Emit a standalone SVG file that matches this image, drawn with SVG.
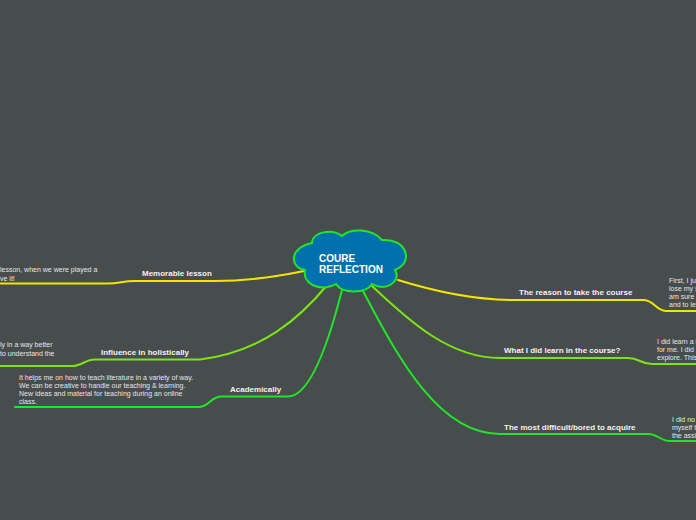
<svg xmlns="http://www.w3.org/2000/svg" width="696" height="520" viewBox="0 0 696 520">
<style>
.bg{fill:#474c4c}
.c{fill:none;stroke-width:2;stroke-linecap:round;stroke-linejoin:round}
.y{stroke:#f2e600}
.l{stroke:#7de414}
.g{stroke:#20e62a}
.lab{font-family:"Liberation Sans",Arial,sans-serif;font-size:8px;font-weight:bold;fill:#f2f2f2}
.d{font-family:"Liberation Sans",Arial,sans-serif;font-size:7px;fill:#e6e6e6}
.t{font-family:"Liberation Sans",Arial,sans-serif;font-size:10px;font-weight:bold;fill:#ffffff}
</style>
<rect class="bg" x="0" y="0" width="696" height="520"/>
<g id="connectors">
<path class="c y" d="M304 271 C270 278,245 281,215 281 L135 281 C122 281,120 283.5,108 283.5 L0 283.5"/>
<path class="c l" d="M328 284 C300 318,262 352,200 359.5 L95 359.5 C85 359.5,82 366,72 366 L0 366"/>
<path class="c g" d="M342 290 C328 345,310 396.5,288 396.5 L222 396.5 C210 396.5,210 407,198 407 L15 407"/>
<path class="c y" d="M398 280 C430 290,470 300,515 300 L643 300 C655 300,655 311,667 311 L696 311"/>
<path class="c l" d="M372 286 C410 322,450 358,500 358 L628 358 C640 358,640 364,652 364 L696 364"/>
<path class="c g" d="M362 289 C400 362,440 434,500 434 L648 434 C658 434,660 441,670 441 L696 441"/>
</g>
<g id="central">
<path d="M305 270 C290 268,288 248,312 243 C312 232,332 228,342 236 C350 228,372 228,382 240 C406 238,415 262,395 270 C402 282,385 292,372 284 C366 294,342 294,336 284 C324 292,302 286,305 270 Z" fill="#0071ad" stroke="#20e62a" stroke-width="2"/>
<text class="t" x="319" y="262">COURE</text>
<text class="t" x="319" y="273">REFLECTION</text>
</g>
<g id="memorable">
<text class="lab" x="142" y="276">Memorable lesson</text>
<text class="d" x="0" y="272">lesson, when we were played a</text>
<text class="d" x="0" y="280.5">ve it!</text>
</g>
<g id="influence">
<text class="lab" x="101" y="355">Influence in holistically</text>
<text class="d" x="0" y="347">ly in a way better</text>
<text class="d" x="0" y="355.5">to understand the</text>
</g>
<g id="academically">
<text class="lab" x="230" y="392">Academically</text>
<text class="d" x="19" y="380">It helps me on how to teach literature in a variety of way.</text>
<text class="d" x="19" y="388">We can be creative to handle our teaching &amp; learning.</text>
<text class="d" x="19" y="396">New ideas and material for teaching during an online</text>
<text class="d" x="19" y="404">class.</text>
</g>
<g id="reason">
<text class="lab" x="519" y="295">The reason to take the course</text>
<text class="d" x="669" y="283">First, I ju</text>
<text class="d" x="669" y="291">lose my s</text>
<text class="d" x="669" y="299">am sure</text>
<text class="d" x="669" y="307">and to le</text>
</g>
<g id="learn">
<text class="lab" x="504" y="353">What I did learn in the course?</text>
<text class="d" x="657" y="344">I did learn a l</text>
<text class="d" x="657" y="352">for me. I did</text>
<text class="d" x="657" y="360">explore. This</text>
</g>
<g id="difficult">
<text class="lab" x="504" y="430">The most difficult/bored to acquire</text>
<text class="d" x="672" y="422">I did no</text>
<text class="d" x="672" y="430">myself t</text>
<text class="d" x="672" y="438">the assi</text>
</g>
</svg>
